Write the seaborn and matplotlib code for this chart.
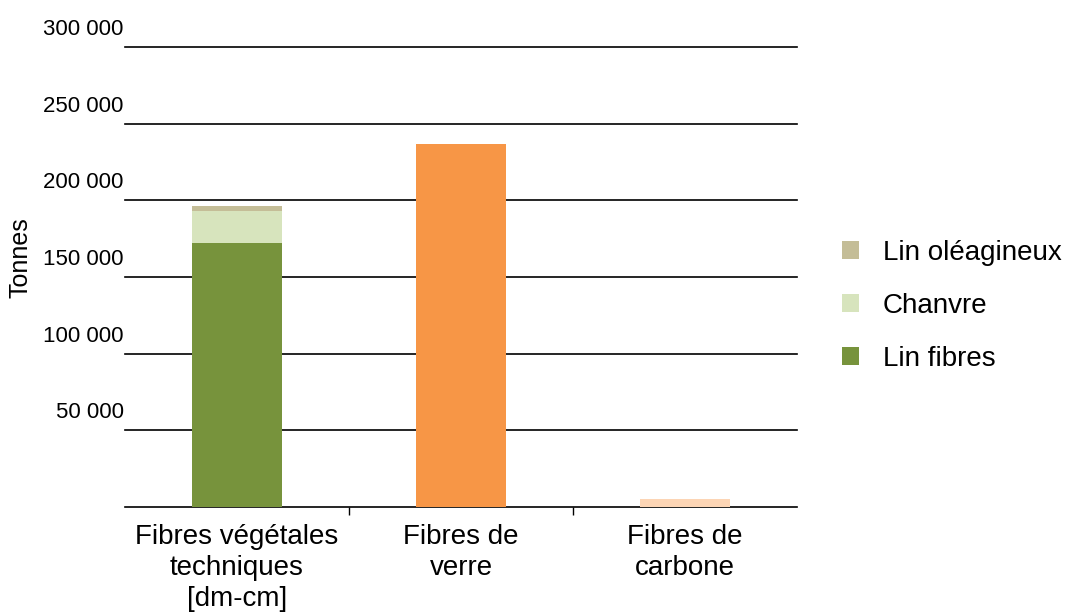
import seaborn as sns
import matplotlib.pyplot as plt
import matplotlib.transforms as mtransforms
from matplotlib.patches import Patch
import pandas as pd
import numpy as np

# Données (tonnes)
categories = ['Fibres végétales\ntechniques\n[dm-cm]', 'Fibres de\nverre', 'Fibres de\ncarbone']
lin_fibres = [172000, 0, 0]
chanvre = [21000, 0, 0]
lin_oleagineux = [3000, 0, 0]
autres = [0, 237000, 5000]  # verre, carbone

series_labels = ['Lin oléagineux', 'Chanvre', 'Lin fibres']
yticks = [50000, 100000, 150000, 200000, 250000, 300000]
ytick_labels = ['50 000', '100 000', '150 000', '200 000', '250 000', '300 000']

# Couleurs
c_lin = '#77933c'
c_chanvre = '#d7e4bd'
c_oleag = '#c4bd97'
c_verre = '#f79646'
c_carbone = '#fcd5b5'

df = pd.DataFrame({
    'cat': categories,
    'lin': lin_fibres,
    'chanvre': chanvre,
    'oleag': lin_oleagineux,
    'autres': autres,
})
df['bas'] = df['lin'] + df['autres']
df['mid'] = df['bas'] + df['chanvre']
df['haut'] = df['mid'] + df['oleag']

plt.rcParams['font.family'] = ['Liberation Sans', 'DejaVu Sans']

fig = plt.figure(figsize=(10.65, 6.12), dpi=100)
ax = fig.add_axes([0.1174, 0.1716, 0.631, 0.7516])

# empilement : du haut vers le bas
sns.barplot(data=df, x='cat', y='haut', color=c_oleag, width=0.4, saturation=1, ax=ax, zorder=3)
sns.barplot(data=df, x='cat', y='mid', color=c_chanvre, width=0.4, saturation=1, ax=ax, zorder=3)
sns.barplot(data=df, x='cat', y='bas', hue='cat', width=0.4, saturation=1, ax=ax, zorder=3,
            palette={categories[0]: c_lin, categories[1]: c_verre, categories[2]: c_carbone},
            legend=False)
for p in ax.patches:
    p.set_linewidth(0)

ax.set_ylim(0, 300000)
ax.set_xlim(-0.5, 2.5)
ax.set_yticks(yticks)
ax.set_yticklabels(ytick_labels, fontsize=16)
ax.tick_params(axis='y', length=0, pad=1)
offset = mtransforms.ScaledTranslation(0, 20 / 100, fig.dpi_scale_trans)
for lab in ax.get_yticklabels():
    lab.set_transform(lab.get_transform() + offset)

for v in yticks:
    ax.axhline(v, color='black', lw=1.2, zorder=2, clip_on=False)

ax.set_xticks([0, 1, 2])
ax.set_xticklabels(categories, fontsize=20, linespacing=1.25)
ax.tick_params(axis='x', which='major', length=0, pad=12)
ax.set_xticks([0.5, 1.5], minor=True)
ax.tick_params(axis='x', which='minor', length=6, width=1, color='black', direction='out')

for s in ['top', 'right', 'left']:
    ax.spines[s].set_visible(False)
ax.spines['bottom'].set_color('black')
ax.spines['bottom'].set_linewidth(1.2)

ax.set_xlabel('')
ax.set_ylabel('Tonnes', fontsize=18)
ax.yaxis.set_label_coords(-0.137, 0.543)

handles = [Patch(facecolor=c_oleag), Patch(facecolor=c_chanvre), Patch(facecolor=c_lin)]
fig.legend(handles, series_labels, loc='center left', bbox_to_anchor=(0.7775, 0.5),
           frameon=False, fontsize=20, handlelength=0.61, handleheight=0.61,
           handletextpad=0.86, labelspacing=0.97, borderpad=0)

fig.savefig('out.png', dpi=100)
